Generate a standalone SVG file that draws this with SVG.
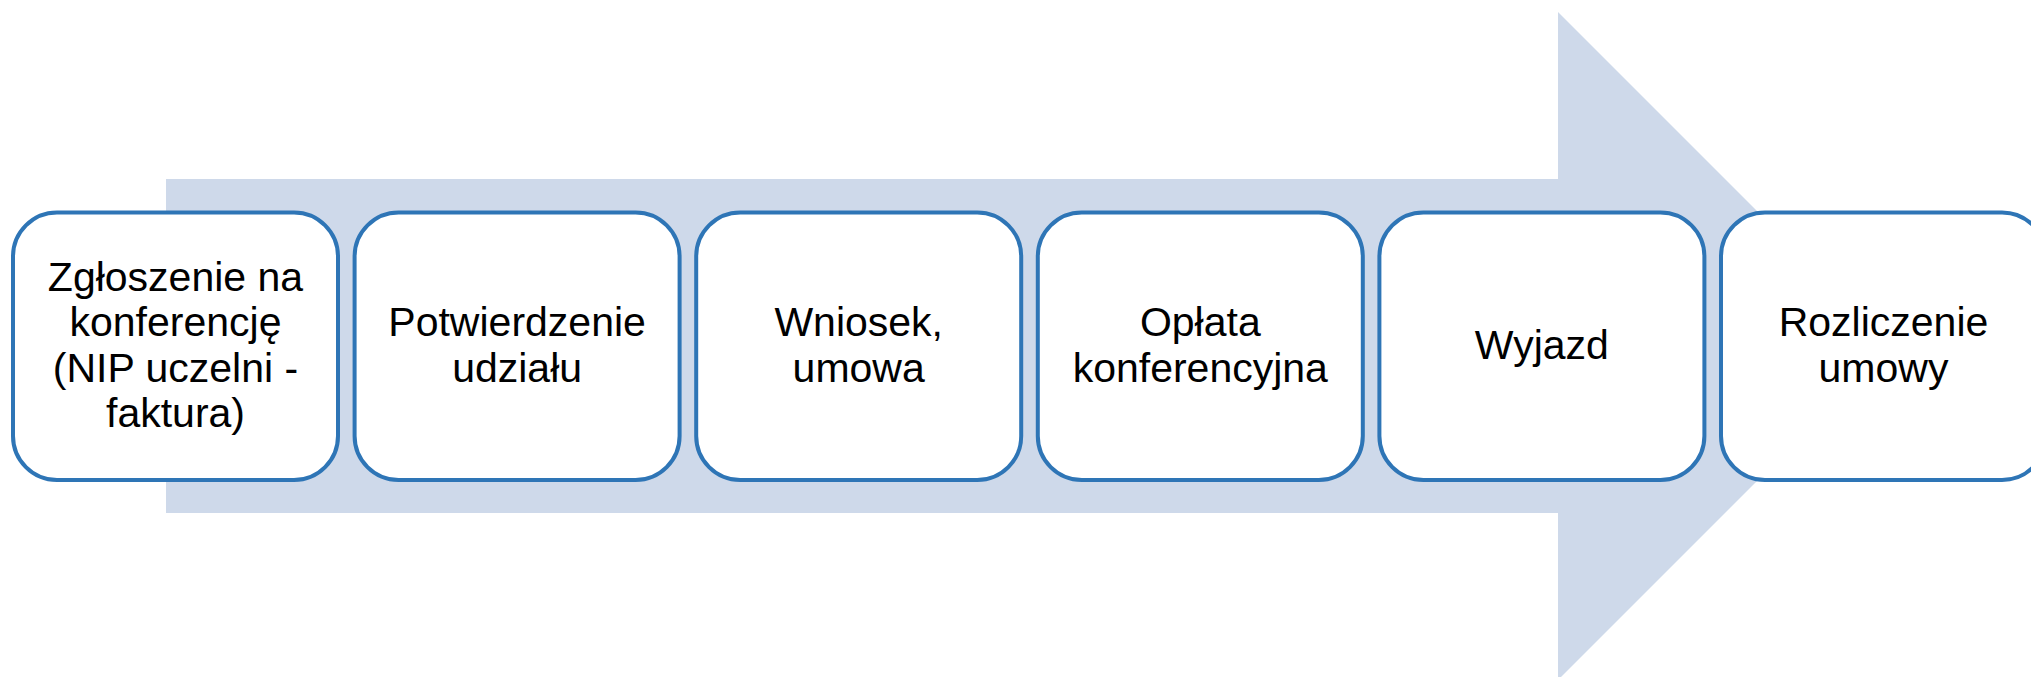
<svg xmlns="http://www.w3.org/2000/svg" width="2031" height="677" viewBox="0 0 2031 677">
<style>
.box{fill:#FFFFFF;stroke:#2E75B6;stroke-width:4}
.lbl{font-family:"Liberation Sans",Arial,sans-serif;font-size:41px;fill:#000000;text-anchor:middle}
</style>
<rect width="2031" height="677" fill="#FFFFFF"/>
<g id="arrow">
<polygon points="166,179 1558,179 1558,12 1892,346 1558,680 1558,513 166,513" fill="#CED9EA"/>
</g>
<g id="connectors"></g>
<g id="node1">
<rect class="box" x="13" y="212.5" width="325" height="267.5" rx="44" ry="44"/>
<text class="lbl"><tspan x="175.5" y="290.6">Zgłoszenie na</tspan><tspan x="175.5" y="336.2">konferencję</tspan><tspan x="175.5" y="381.8">(NIP uczelni -</tspan><tspan x="175.5" y="427.4">faktura)</tspan></text>
</g>
<g id="node2">
<rect class="box" x="354.6" y="212.5" width="325" height="267.5" rx="44" ry="44"/>
<text class="lbl"><tspan x="517.1" y="336.2">Potwierdzenie</tspan><tspan x="517.1" y="381.8">udziału</tspan></text>
</g>
<g id="node3">
<rect class="box" x="696.2" y="212.5" width="325" height="267.5" rx="44" ry="44"/>
<text class="lbl"><tspan x="858.7" y="336.2">Wniosek,</tspan><tspan x="858.7" y="381.8">umowa</tspan></text>
</g>
<g id="node4">
<rect class="box" x="1037.8" y="212.5" width="325" height="267.5" rx="44" ry="44"/>
<text class="lbl"><tspan x="1200.3" y="336.2">Opłata</tspan><tspan x="1200.3" y="381.8">konferencyjna</tspan></text>
</g>
<g id="node5">
<rect class="box" x="1379.4" y="212.5" width="325" height="267.5" rx="44" ry="44"/>
<text class="lbl" x="1541.9" y="359">Wyjazd</text>
</g>
<g id="node6">
<rect class="box" x="1721" y="212.5" width="325" height="267.5" rx="44" ry="44"/>
<text class="lbl"><tspan x="1883.5" y="336.2">Rozliczenie</tspan><tspan x="1883.5" y="381.8">umowy</tspan></text>
</g>
</svg>
